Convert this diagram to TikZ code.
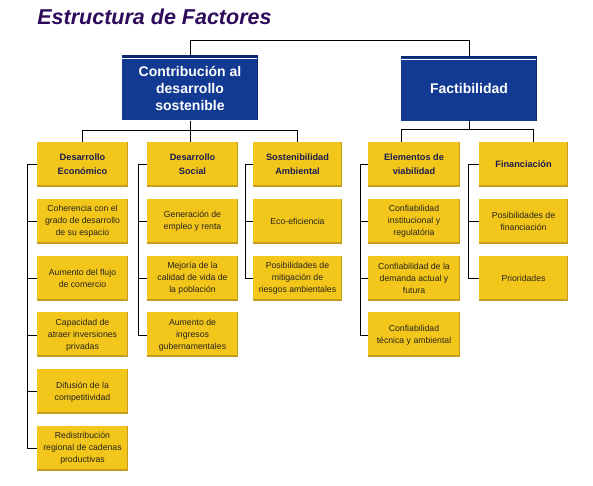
\documentclass[tikz,border=0pt]{standalone}
\usepackage{fontspec}
\setmainfont{Liberation Sans}
\usepackage{xcolor}
\usepackage{tikz}
\usetikzlibrary{positioning,calc}

\definecolor{boxblue}{RGB}{18,58,146}
\definecolor{boxbluetop}{RGB}{10,38,110}
\definecolor{boxyellow}{RGB}{242,198,26}
\definecolor{boxshade}{RGB}{196,158,30}
\definecolor{headtext}{RGB}{28,28,80}
\definecolor{bodytext}{RGB}{40,36,30}
\definecolor{titlecol}{RGB}{45,11,90}

\begin{document}
\begin{tikzpicture}[x=1pt, y=-1pt, node distance=11pt, line width=0.8pt,
    bluebox/.style={fill=boxblue, text=white, align=center, inner sep=0pt,
        minimum width=136pt, minimum height=65pt,
        font=\fontsize{14}{17}\selectfont\bfseries,
        path picture={
            \fill[boxbluetop] (path picture bounding box.north west) rectangle ([yshift=-2.5pt]path picture bounding box.north east);
            \draw[white, line width=0.9pt] ([yshift=-3.2pt]path picture bounding box.north west) -- ([yshift=-3.2pt]path picture bounding box.north east);
            \fill[boxbluetop] ([xshift=-1.2pt]path picture bounding box.north east) rectangle (path picture bounding box.south east);}},
    yelbox/.style={fill=boxyellow, align=center, inner sep=0pt,
        minimum width=91pt, minimum height=45pt,
        path picture={
            \fill[boxshade] (path picture bounding box.south west) rectangle ([yshift=2pt]path picture bounding box.south east);
            \fill[boxshade] ([xshift=-1.2pt]path picture bounding box.north east) rectangle (path picture bounding box.south east);}},
    headbox/.style={yelbox, text=headtext, font=\fontsize{9.2}{14}\selectfont\bfseries},
    itembox/.style={yelbox, text=bodytext, font=\fontsize{8.7}{12}\selectfont}]

    \useasboundingbox (0,0) rectangle (593,486);

    % Title
    \node[anchor=west, text=titlecol, inner sep=0pt, font=\fontsize{21.5}{24}\selectfont\bfseries\itshape] (title) at (37,17) {Estructura de Factores};

    % Top level
    \node[bluebox] (contrib) at (190,88) {Contribución al\\desarrollo\\sostenible};
    \node[bluebox] (factib) at (469,88.5) {Factibilidad};

    % Factor groups
    \node[headbox] (deco) at (82.5,164.5) {Desarrollo\\Económico};
    \node[headbox] (soc) at (192.5,164.5) {Desarrollo\\Social};
    \node[headbox, minimum width=89pt] (amb) at (297.5,164.5) {Sostenibilidad\\Ambiental};
    \node[headbox, minimum width=92pt] (elem) at (414,164.5) {Elementos de\\viabilidad};
    \node[headbox, minimum width=89pt] (fin) at (523.5,164.5) {Financiación};

    % Desarrollo economico
    \node[itembox, below=of deco] (cohe) {Coherencia con el\\grado de desarrollo\\de su espacio};
    \node[itembox, below=of cohe] (flujo) {Aumento del flujo\\de comercio};
    \node[itembox, below=of flujo] (inver) {Capacidad de\\atraer inversiones\\privadas};
    \node[itembox, below=of inver] (difu) {Difusión de la\\competitividad};
    \node[itembox, below=of difu] (redis) {Redistribución\\regional de cadenas\\productivas};

    % Desarrollo social
    \node[itembox, below=of soc] (empleo) {Generación de\\empleo y renta};
    \node[itembox, below=of empleo] (vida) {Mejoría de la\\calidad de vida de\\la población};
    \node[itembox, below=of vida] (ingr) {Aumento de\\ingresos\\gubernamentales};

    % Sostenibilidad ambiental
    \node[itembox, minimum width=89pt, below=of amb] (ecoef) {Eco-eficiencia};
    \node[itembox, minimum width=89pt, below=of ecoef] (riesgo) {Posibilidades de\\mitigación de\\riesgos ambientales};

    % Elementos de viabilidad
    \node[itembox, minimum width=92pt, below=of elem] (inst) {Confiabilidad\\institucional y\\regulatória};
    \node[itembox, minimum width=92pt, below=of inst] (dem) {Confiabilidad de la\\demanda actual y\\futura};
    \node[itembox, minimum width=92pt, below=of dem] (tec) {Confiabilidad\\técnica y ambiental};

    % Financiacion
    \node[itembox, minimum width=89pt, below=of fin] (posfin) {Posibilidades de\\financiación};
    \node[itembox, minimum width=89pt, below=of posfin] (prio) {Prioridades};

    % Connections
    \draw (contrib.north) -- ++(0,-15) -| (factib.north);

    \draw (contrib.south) -- ++(0,10) -| (deco.north);
    \draw (contrib.south) -- ++(0,10) -| (amb.north);
    \draw (contrib.south) -- (soc.north -| contrib.south);

    \draw (factib.south) -- ++(0,8.5) -| ([xshift=-13pt]elem.north);
    \draw (factib.south) -- ++(0,8.5) -| ([xshift=9.5pt]fin.north);

    % Brackets
    \draw (deco.west) -- ++(-9,0) |- (redis.west);
    \draw (cohe.west) -- ++(-9,0);
    \draw (flujo.west) -- ++(-9,0);
    \draw (inver.west) -- ++(-9,0);
    \draw (difu.west) -- ++(-9,0);

    \draw (soc.west) -- ++(-8,0) |- (ingr.west);
    \draw (empleo.west) -- ++(-8,0);
    \draw (vida.west) -- ++(-8,0);

    \draw (amb.west) -- ++(-7,0) |- (riesgo.west);
    \draw (ecoef.west) -- ++(-7,0);

    \draw (elem.west) -- ++(-7,0) |- (tec.west);
    \draw (inst.west) -- ++(-7,0);
    \draw (dem.west) -- ++(-7,0);

    \draw (fin.west) -- ++(-10,0) |- (prio.west);
    \draw (posfin.west) -- ++(-10,0);

\end{tikzpicture}
\end{document}
